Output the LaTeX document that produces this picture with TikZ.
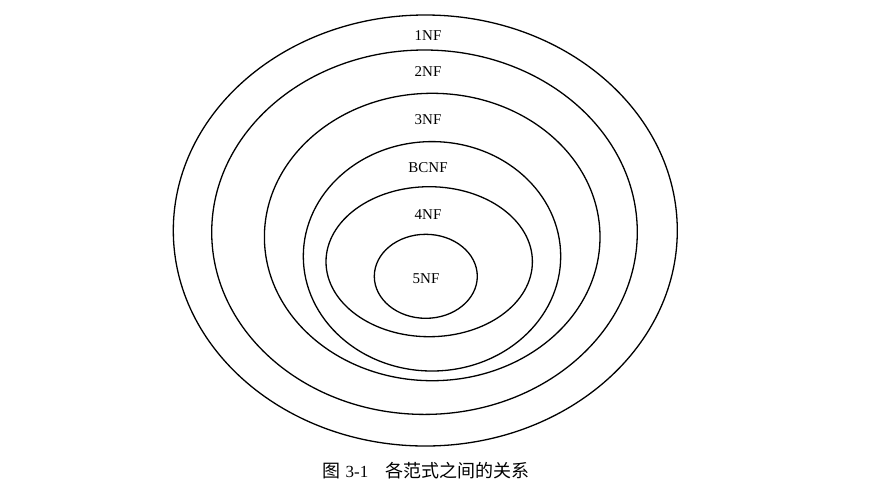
\documentclass[tikz,border=0pt]{standalone}
\usepackage{fontspec}
\setmainfont{Liberation Serif}
\newfontfamily\cjk{Noto Sans CJK SC}
\begin{document}
\begin{tikzpicture}[x=1pt,y=-1pt,
  ring/.style={draw=black,line width=1.3pt},
  lbl/.style={font=\fontsize{15}{15}\selectfont,inner sep=0pt}]
\useasboundingbox (0,0) rectangle (874,499);
\draw[ring] (425.3,230.5) ellipse [x radius=252,y radius=215.5];
\draw[ring] (424.5,232.2) ellipse [x radius=212.8,y radius=182.2];
\draw[ring] (432.2,237) ellipse [x radius=167.8,y radius=143.7];
\draw[ring] (432,256.3) ellipse [x radius=128.7,y radius=114.7];
\draw[ring] (429.2,261.7) ellipse [x radius=103.2,y radius=75];
\draw[ring] (425.8,276.3) ellipse [x radius=51.5,y radius=42];
\node[lbl] (n1) at (428,36) {1NF};
\node[lbl] (n2) at (428,71.7) {2NF};
\node[lbl] (n3) at (428,120) {3NF};
\node[lbl] (nbc) at (428,167.3) {BCNF};
\node[lbl] (n4) at (428,214.3) {4NF};
\node[lbl] (n5) at (426,279) {5NF};
\node[inner sep=0pt,font=\fontsize{17}{17}\selectfont] (cap) at (426,471)
  {{\cjk\fontsize{18}{18}\selectfont 图}\hspace{5pt}3-1\hspace{17pt}{\cjk\fontsize{18}{18}\selectfont 各范式之间的关系}};
\end{tikzpicture}
\end{document}
